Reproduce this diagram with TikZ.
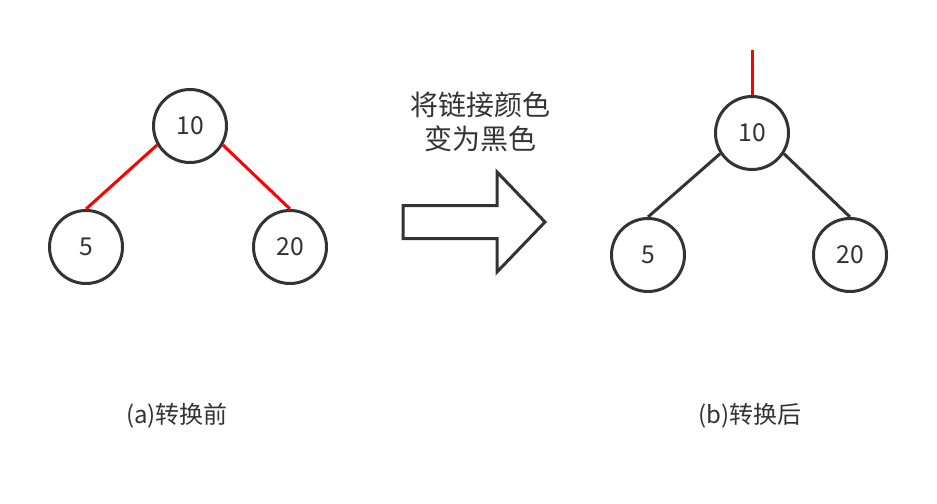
\documentclass[tikz,border=0pt]{standalone}
\usepackage{fontspec}
\setmainfont{Noto Sans CJK SC}
\usepackage{tikz}
\usetikzlibrary{arrows.meta,positioning}
\definecolor{treeInk}{HTML}{333333}
\definecolor{treeRed}{HTML}{FF0000}
\tikzset{
  treenode/.style={
    circle,
    draw=treeInk,
    fill=white,
    line width=2.25pt,
    inner sep=0pt,
    minimum size=54.75pt,
    text=treeInk,
    font=\fontsize{18.5}{22}\selectfont
  },
  redlink/.style={
    draw=treeRed,
    line width=2.25pt
  },
  blacklink/.style={
    draw=treeInk,
    line width=2.25pt
  },
  bigarrow/.style={
    draw=treeInk,
    fill=white,
    line width=2.25pt,
    line join=miter
  },
  caption/.style={
    text=treeInk,
    align=center,
    font=\fontsize{21}{26}\selectfont
  },
  sublabel/.style={
    text=treeInk,
    font=\fontsize{18}{21}\selectfont
  }
}

\begin{document}
\begin{tikzpicture}[x=0.75pt,y=-0.75pt]
  \useasboundingbox (0,0) rectangle (937,503);
  % before
  \node[treenode] (a10) at (190,126) {10};
  \node[treenode] (a5) at (86,247) {5};
  \node[treenode] (a20) at (290,247) {20};
  \draw[redlink] (a10.210) -- (a5.north);
  \draw[redlink] (a10.-30) -- (a20.north);
  \node[sublabel] (lbla) at (177,416) {(a)转换前};
  % arrow in the middle
  \node[caption] (note) at (480,122) {将链接颜色\\变为黑色};
  \draw[bigarrow] (403,205.5) -- (497,205.5) -- (497,172) -- (545,222)
    -- (497,272) -- (497,238.5) -- (403,238.5) -- cycle;
  % after
  \node[treenode] (b10) at (752,133) {10};
  \node[treenode] (b5) at (648,255) {5};
  \node[treenode] (b20) at (850,255) {20};
  \coordinate (btop) at (752,50);
  \draw[redlink] (btop) -- (b10.north);
  \draw[blacklink] (b10.213) -- (b5.north);
  \draw[blacklink] (b10.-33) -- (b20.north);
  \node[sublabel] (lblb) at (750,416) {(b)转换后};
\end{tikzpicture}
\end{document}
